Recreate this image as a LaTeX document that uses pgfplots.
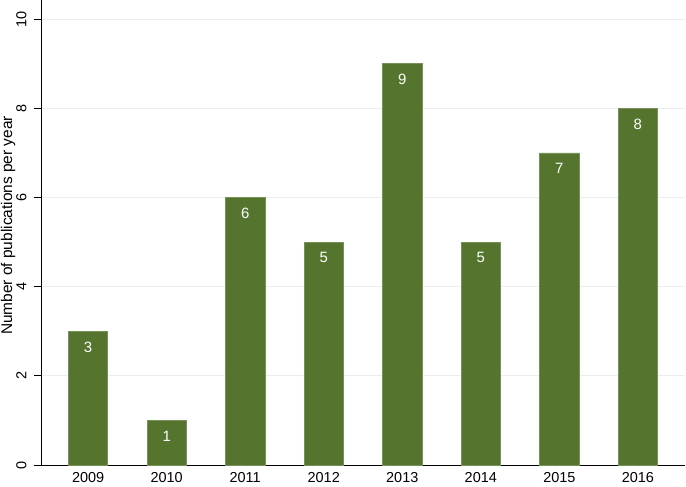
\documentclass[border=0pt]{standalone}
\usepackage{pgfplots}
\pgfplotsset{compat=1.18}
\usepackage{fontspec}
\setmainfont{Liberation Sans}
\definecolor{barg}{RGB}{85,117,47}
\definecolor{gridc}{RGB}{234,238,241}
\begin{document}
\begin{tikzpicture}
\begin{axis}[
  scale only axis,
  width=644bp, height=465bp,
  at={(0,0)}, anchor=south west,
  xmin=-0.6, xmax=7.6,
  ymin=0, ymax=10.43,
  axis x line*=bottom, axis y line*=left,
  xtick=data,
  xticklabels={2009,2010,2011,2012,2013,2014,2015,2016},
  x tick style={draw=none},
  xticklabel shift={-3bp},
  ytick={0,2,4,6,8,10},
  y tick label style={rotate=90, anchor=south},
  yticklabel shift={4bp},
  ymajorgrids, major grid style={gridc, line width=0.8pt},
  tick label style={font=\fontsize{14.5}{16}\selectfont},
  /pgf/number format/assume math mode=true,
  ylabel={Number of publications per year},
  ylabel style={font=\fontsize{15.5}{17}\selectfont, at={(ticklabel cs:0.515)}, yshift=-6bp},
  axis line style={line width=0.9pt, black},
  y tick style={black, line width=0.8pt},
  tick align=outside, major tick length=7bp,
  ybar, bar width=0.5,
  nodes near coords,
  nodes near coords style={font=\fontsize{15}{17}\selectfont, white, anchor=north, yshift=-7bp},
  clip=false,
]
\addplot[fill=barg, draw=barg!80!white, line width=0.6pt] coordinates {(0,3) (1,1) (2,6) (3,5) (4,9) (5,5) (6,7) (7,8)};
\end{axis}
\pgfresetboundingbox
\path[use as bounding box] (-41bp,-22bp) rectangle (645bp,465bp);
\end{tikzpicture}
\end{document}
